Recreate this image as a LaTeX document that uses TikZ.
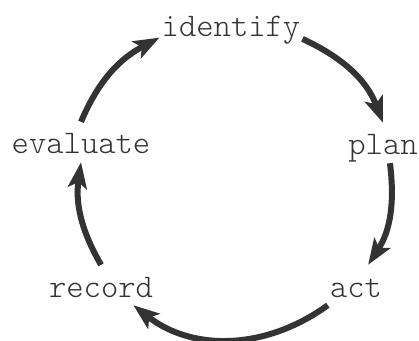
\documentclass[tikz,border=0pt]{standalone}
\usepackage{tikz}
\usetikzlibrary{arrows.meta}
\definecolor{cyclegray}{HTML}{333333}

\begin{document}
\begin{tikzpicture}[x=1pt, y=1pt,
    stage/.style={anchor=base, text=cyclegray, inner sep=2pt,
      text height=30pt, text depth=6pt,
      font=\fontsize{33}{40}\ttfamily\fontseries{l}\selectfont},
    cyc/.style={draw=cyclegray, line width=6pt,
      -{Stealth[length=26pt, width=19pt, inset=6pt]}}]
     \useasboundingbox (0,0) rectangle (419,340);
      \node[stage] (identify) at (231,303) {identify};
      \node[stage] (plan)     at (383,185) {plan};
      \node[stage] (act)      at (356,43)  {act};
      \node[stage] (record)   at (101,43)  {record};
      \node[stage] (evaluate) at (81,186)  {evaluate};
      \draw[cyc] (identify.-11) to[out=-25, in=111] (plan.north);
      \draw[cyc] (plan.-71) to[out=-83, in=57] (act.59);
      \draw[cyc] (act.south west) to[out=216, in=-38] (record.-32);
      \draw[cyc] (record.north) to[out=120, in=-98] (evaluate.south);
      \draw[cyc] (evaluate.north) to[out=67, in=-152] (identify.190);
\end{tikzpicture}
\end{document}
